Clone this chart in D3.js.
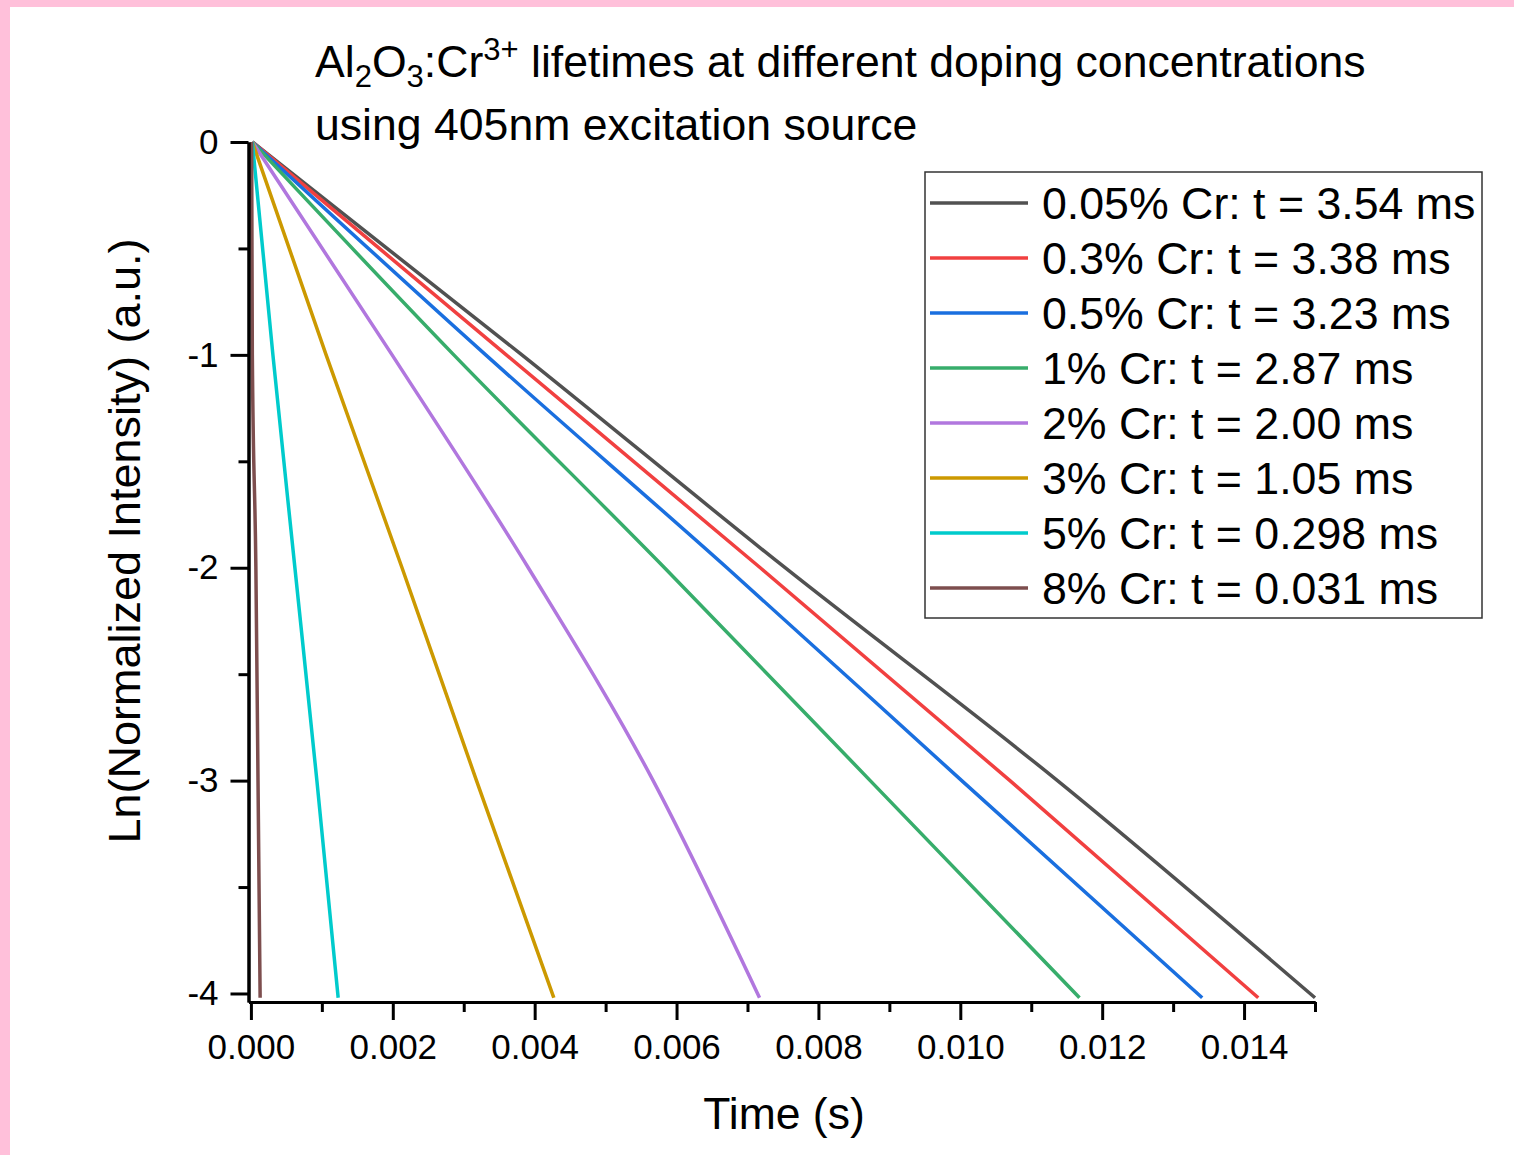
<!DOCTYPE html>
<html><head><meta charset="utf-8">
<script src="https://cdn.jsdelivr.net/npm/d3@7"></script>
<style>
html,body{margin:0;padding:0;background:#ffc0da;}
svg{display:block;font-family:"Liberation Sans",Arial,sans-serif;}
</style></head>
<body><svg id="chart" width="1514" height="1155"></svg>
<script>
// ---- data ----
const seriesNames = ["0.05% Cr: t = 3.54 ms","0.3% Cr: t = 3.38 ms","0.5% Cr: t = 3.23 ms","1% Cr: t = 2.87 ms","2% Cr: t = 2.00 ms","3% Cr: t = 1.05 ms","5% Cr: t = 0.298 ms","8% Cr: t = 0.031 ms"];
const seriesColors = ["#515151","#F14040","#1A6FDF","#37AD6B","#B177DE","#CC9900","#00CBCC","#7D4E4E"];
const lnLevels = [0, -1, -2, -3, -4.02];
const t005 = [0.00002, 0.00382, 0.00753, 0.01137, 0.01500];
const t03  = [0.00002, 0.00360, 0.00718, 0.01070, 0.01420];
const t05  = [0.00002, 0.00331, 0.00671, 0.01002, 0.01341];
const t1   = [0.00002, 0.00286, 0.00583, 0.00873, 0.01168];
const t2   = [0.00002, 0.00199, 0.00391, 0.00567, 0.00717];
const t3   = [0.00002, 0.00106, 0.00213, 0.00318, 0.00427];
const t5   = [0.00002, 0.00031, 0.00062, 0.00093, 0.00123];
const t8   = [0.00001, 0.00002, 0.00007, 0.00010, 0.00013];
const seriesTimes = [t005, t03, t05, t1, t2, t3, t5, t8];
const xMajorTicks = [0, 0.002, 0.004, 0.006, 0.008, 0.010, 0.012, 0.014];
const xMinorTicks = [0.001, 0.003, 0.005, 0.007, 0.009, 0.011, 0.013, 0.015];
const yMajorTicks = [0, -1, -2, -3, -4];
const yMinorTicks = [-0.5, -1.5, -2.5, -3.5];

// ---- drawing ----
const svg = d3.select("#chart");
svg.append("rect").attr("x",10).attr("y",7).attr("width",1504).attr("height",1148).attr("fill","#ffffff");

const x = d3.scaleLinear().domain([-0.000034, 0.015]).range([248.5, 1315]);
const y = d3.scaleLinear().domain([-4.04, 0]).range([1002, 142]);

// curves
const line = d3.line().x(d => x(d[0])).y(d => y(d[1])).curve(d3.curveMonotoneX);
const plot = svg.append("g");
seriesTimes.forEach((ts, i) => {
  const pts = ts.map((t, j) => [t, lnLevels[j]]);
  plot.append("path").attr("d", line(pts)).attr("fill","none")
    .attr("stroke", seriesColors[i]).attr("stroke-width", 3.5).attr("stroke-linejoin","round");
});

// axes
function styleAxis(g){
  g.selectAll(".domain").attr("stroke","#000").attr("stroke-width",3);
  g.selectAll(".tick line").attr("stroke","#000").attr("stroke-width",3);
}
const xAxisG = svg.append("g").attr("transform","translate(0,1002)")
  .call(d3.axisBottom(x).tickValues(xMajorTicks).tickSize(18).tickSizeOuter(0).tickPadding(14).tickFormat(d3.format(".3f")));
styleAxis(xAxisG);
xAxisG.selectAll("text").attr("font-size",35).attr("fill","#000").attr("font-family","Liberation Sans, Arial, sans-serif");
const xMinorG = svg.append("g").attr("transform","translate(0,1002)")
  .call(d3.axisBottom(x).tickValues(xMinorTicks).tickSize(10).tickSizeOuter(0).tickFormat(""));
styleAxis(xMinorG);

const yAxisG = svg.append("g").attr("transform","translate(248.5,0)")
  .call(d3.axisLeft(y).tickValues(yMajorTicks).tickSize(18).tickSizeOuter(0).tickPadding(12).tickFormat(d => String(d)));
styleAxis(yAxisG);
yAxisG.selectAll("text").attr("font-size",35).attr("fill","#000").attr("font-family","Liberation Sans, Arial, sans-serif");
const yMinorG = svg.append("g").attr("transform","translate(248.5,0)")
  .call(d3.axisLeft(y).tickValues(yMinorTicks).tickSize(10).tickSizeOuter(0).tickFormat(""));
styleAxis(yMinorG);

// axis titles
svg.append("text").attr("x",784).attr("y",1129).attr("text-anchor","middle")
  .attr("font-size",44.5).attr("fill","#000").text("Time (s)");
svg.append("text").attr("transform","translate(140,541) rotate(-90)").attr("text-anchor","middle")
  .attr("font-size",45).attr("fill","#000").text("Ln(Normalized Intensity) (a.u.)");

// title
const t1t = svg.append("text").attr("x",315).attr("y",77).attr("font-size",44.6).attr("fill","#000");
t1t.append("tspan").text("Al");
t1t.append("tspan").attr("dy",10).attr("font-size",31).text("2");
t1t.append("tspan").attr("dy",-10).text("O");
t1t.append("tspan").attr("dy",10).attr("font-size",31).text("3");
t1t.append("tspan").attr("dy",-10).text(":Cr");
t1t.append("tspan").attr("dy",-17).attr("font-size",31).text("3+");
t1t.append("tspan").attr("dy",17).text(" lifetimes at different doping concentrations");
svg.append("text").attr("x",315).attr("y",140).attr("font-size",44.6).attr("fill","#000")
  .text("using 405nm excitation source");

// legend
const lg = svg.append("g");
lg.append("rect").attr("x",925).attr("y",172).attr("width",557).attr("height",446)
  .attr("fill","#fff").attr("stroke","#333").attr("stroke-width",1.5);
seriesNames.forEach((name, i) => {
  const cy = 203 + i*55;
  lg.append("line").attr("x1",930).attr("x2",1028).attr("y1",cy).attr("y2",cy)
    .attr("stroke",seriesColors[i]).attr("stroke-width",3.5);
  lg.append("text").attr("x",1042).attr("y",cy+16).attr("font-size",44.7).attr("fill","#000").text(name);
});
</script></body></html>
